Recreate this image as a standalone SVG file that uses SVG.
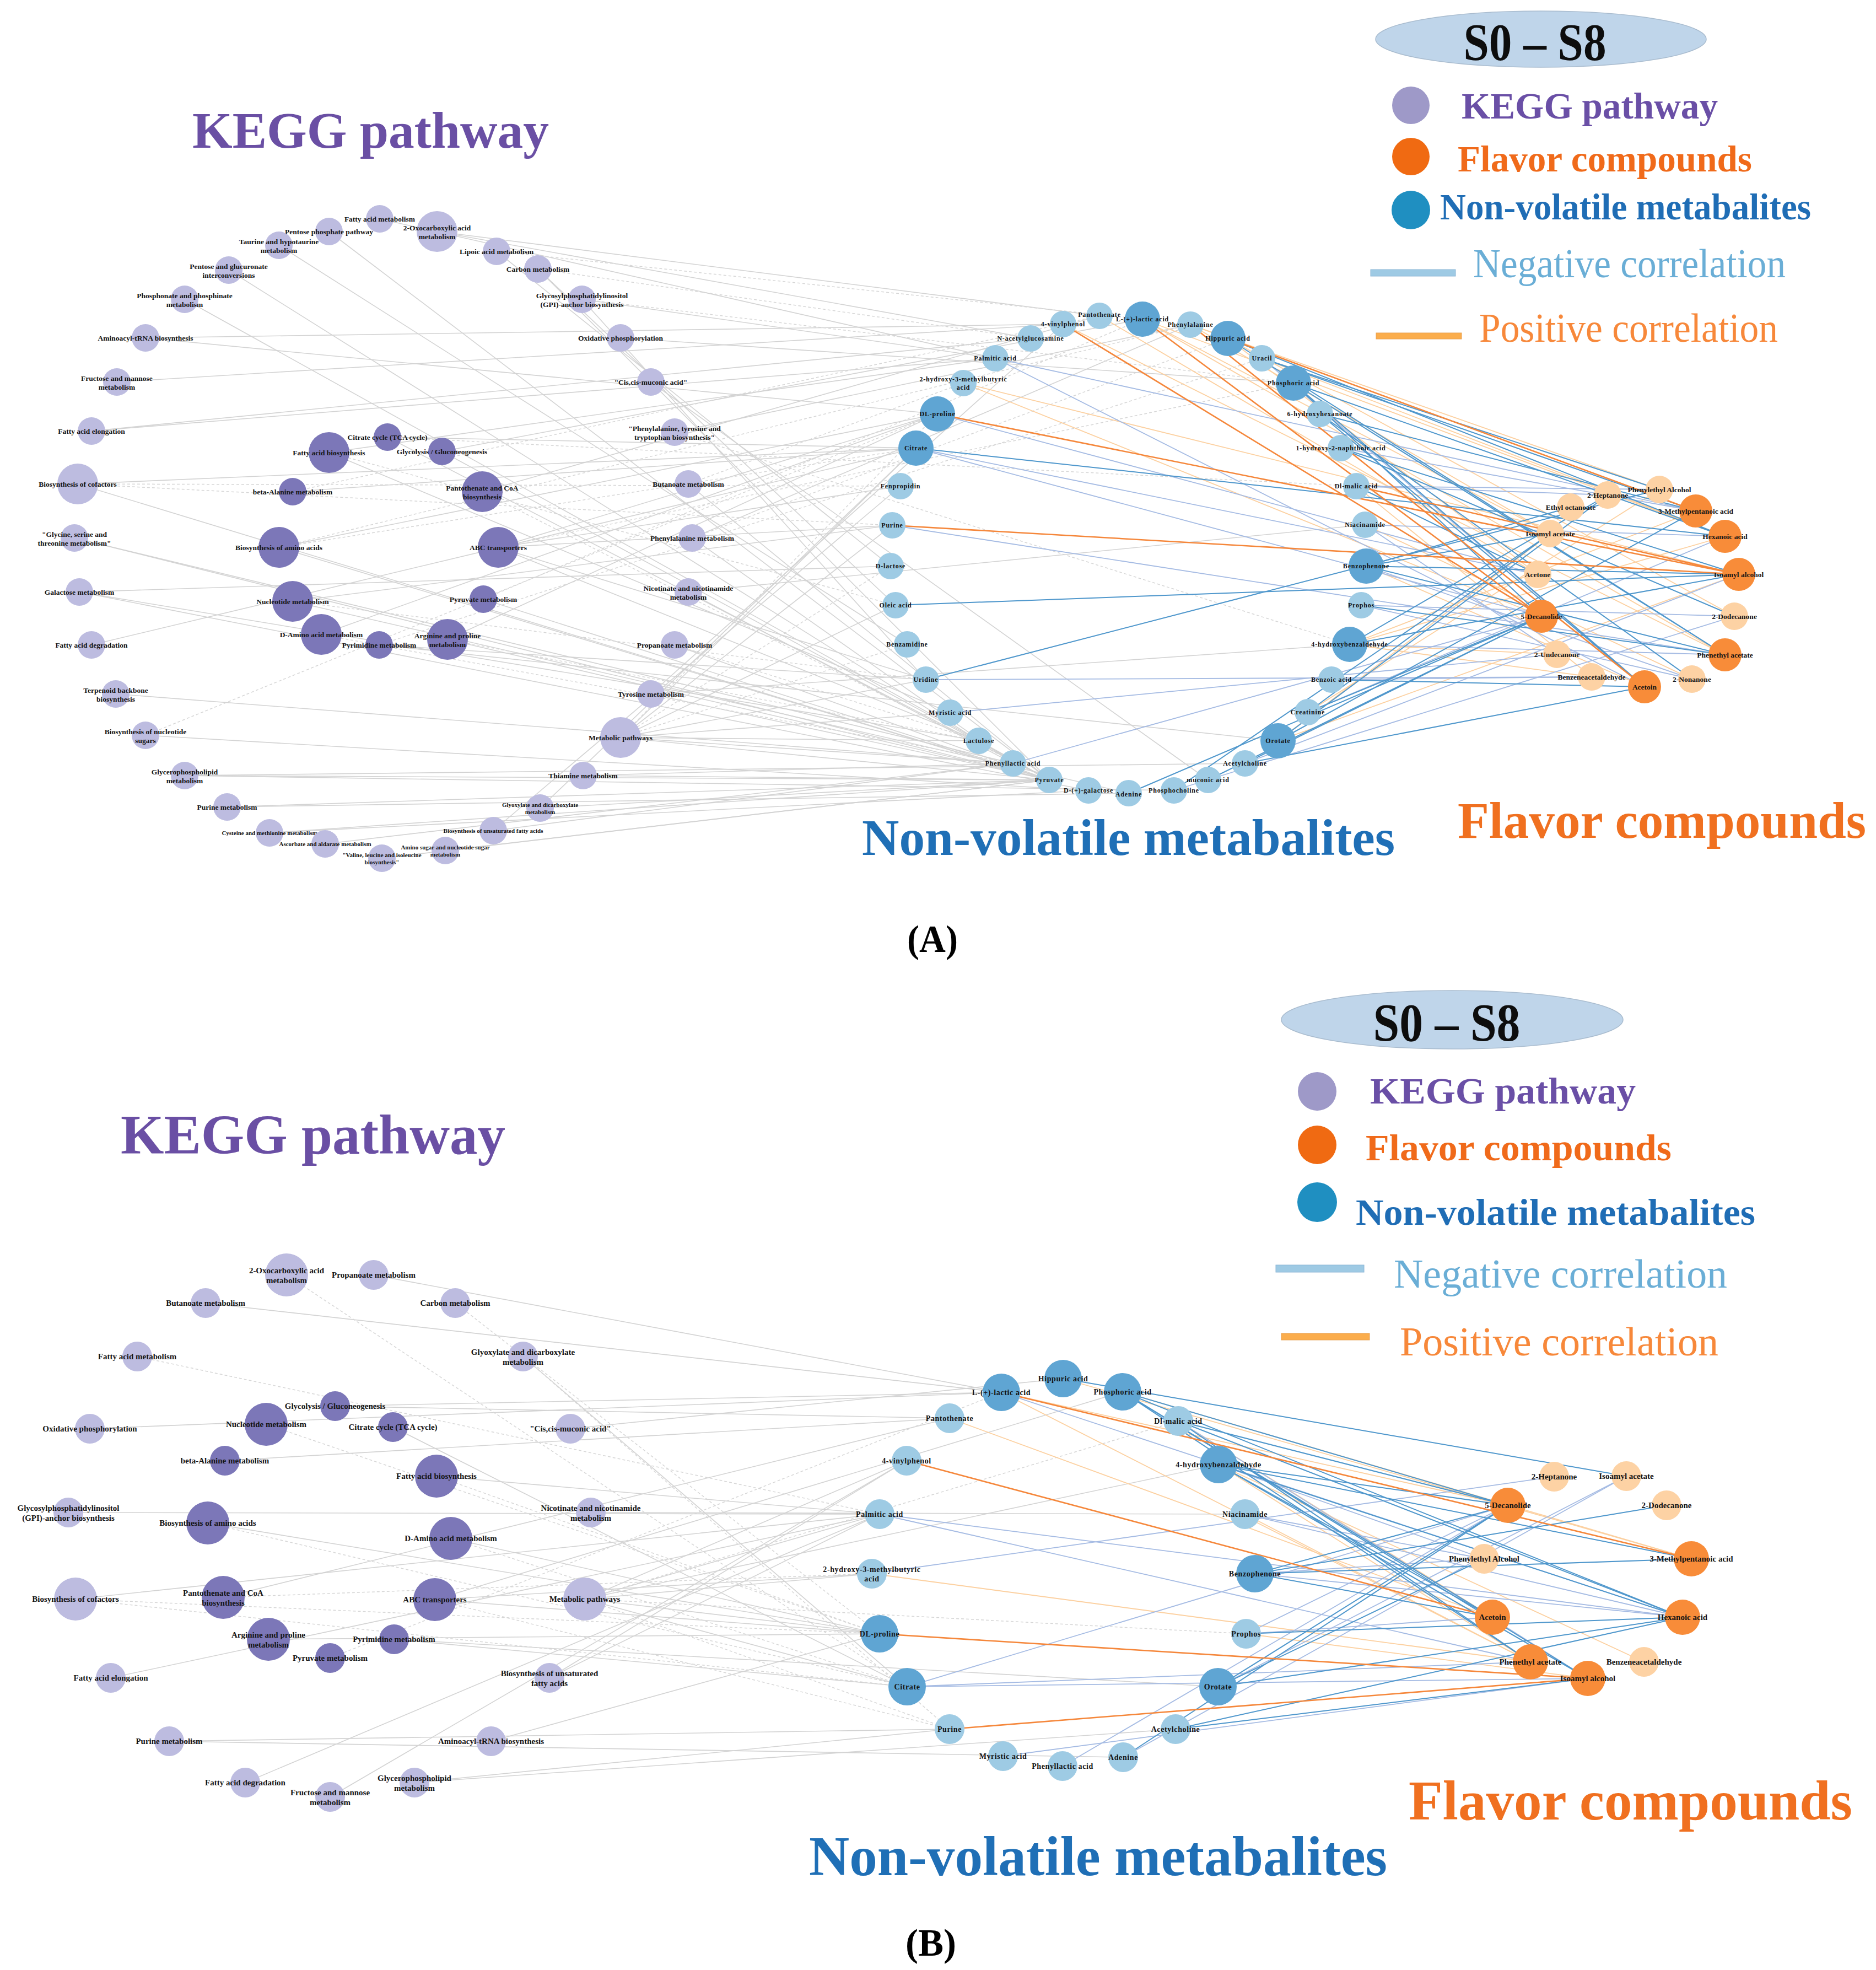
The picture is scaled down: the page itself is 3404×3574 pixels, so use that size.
<svg xmlns="http://www.w3.org/2000/svg" width="3404" height="3574" viewBox="0 0 3404 3574">
<style>
.kl{fill:#bdbce0}.kd{fill:#7c77b8}.nl{fill:#9ecbe4}.nd{fill:#5fa5d3}.fl{fill:#fdd2a4}.fd{fill:#f88c39}
text{font-family:"Liberation Serif","Times New Roman",serif;font-weight:bold;fill:#141414;text-anchor:middle;dominant-baseline:central}
.ta{font-size:13.5px}.tas{font-size:11px}.tn{font-size:12px;letter-spacing:0.8px}.tf{font-size:13.5px}
.tb{font-size:15px}.tnb{font-size:14px;letter-spacing:0.6px}.tfb{font-size:15px}
.big{dominant-baseline:auto;text-anchor:start}
.leg{dominant-baseline:auto;text-anchor:start;font-size:68px}
.corr{dominant-baseline:auto;text-anchor:start;font-size:74px;font-weight:normal}
.e-g{stroke:#d3d3d3;stroke-width:1.6}
.e-gd{stroke:#d6d6d6;stroke-width:1.5;stroke-dasharray:5 4}
.e-nb{stroke:#4f97cc;stroke-width:2}
.e-nl{stroke:#a5bbe3;stroke-width:1.8}
.e-po{stroke:#f5873b;stroke-width:2.6}
.e-pl{stroke:#fcd0a0;stroke-width:1.8}
</style>
<rect width="3404" height="3574" fill="#ffffff"/>

<g id="connectors" fill="none">
<g id="connectors-a">
<g class="e-g">
<path d="M793 420L1870 614"/><path d="M793 420L1995 573"/><path d="M901 456L1616 1027"/><path d="M976 488L1625 1098"/><path d="M976 488L1904 1415"/>
<path d="M1056 543L1806 650"/><path d="M1056 543L1680 1233"/><path d="M264 613L1929 588"/><path d="M264 613L1701 751"/><path d="M212 693L1929 588"/>
<path d="M166 782L1870 614"/><path d="M166 782L1806 650"/><path d="M141 878L1662 813"/><path d="M141 878L1904 1415"/><path d="M135 976L1838 1385"/>
<path d="M135 976L1904 1415"/><path d="M144 1074L1616 1027"/><path d="M144 1074L1975 1434"/><path d="M144 1074L1776 1344"/><path d="M166 1170L1662 813"/>
<path d="M210 1259L1838 1385"/><path d="M264 1334L1975 1434"/><path d="M335 1407L2130 1434"/><path d="M335 1407L2259 1385"/><path d="M335 1407L1904 1415"/>
<path d="M412 1464L1904 1415"/><path d="M412 1464L2048 1439"/><path d="M489 1511L1975 1434"/><path d="M489 1511L1904 1415"/><path d="M590 1531L1838 1385"/>
<path d="M693 1557L1904 1415"/><path d="M808 1543L1904 1415"/><path d="M895 1507L1838 1385"/><path d="M895 1507L1634 882"/><path d="M980 1466L1662 813"/>
<path d="M980 1466L1904 1415"/><path d="M1058 1407L1838 1385"/><path d="M1058 1407L1904 1415"/><path d="M1126 1338L1904 1415"/><path d="M1126 1338L1838 1385"/>
<path d="M1126 1338L1776 1344"/><path d="M1126 1338L1724 1293"/><path d="M1126 1338L1680 1233"/><path d="M1126 1338L1625 1098"/><path d="M1126 1338L1619 953"/>
<path d="M1126 1338L1662 813"/><path d="M1181 1259L2449 1169"/><path d="M1181 1259L1929 588"/><path d="M1181 1259L1904 1415"/><path d="M1224 1170L1904 1415"/>
<path d="M1249 1074L2477 952"/><path d="M1249 1074L1838 1385"/><path d="M1256 976L2160 589"/><path d="M1256 976L1838 1385"/><path d="M1249 878L1904 1415"/>
<path d="M1224 784L2160 589"/><path d="M1181 693L2192 1415"/><path d="M1126 613L2347 695"/><path d="M597 420L1904 1415"/><path d="M506 445L1646 1169"/>
<path d="M415 490L1776 1344"/><path d="M335 543L1904 1415"/><path d="M689 397L1806 650"/><path d="M703 793L1662 813"/><path d="M703 793L1904 1415"/>
<path d="M597 821L1806 650"/><path d="M597 821L1724 1293"/><path d="M802 819L1904 1415"/><path d="M802 819L2073 579"/><path d="M531 892L1662 813"/>
<path d="M875 892L1995 573"/><path d="M506 993L1701 751"/><path d="M506 993L1904 1415"/><path d="M904 993L1701 751"/><path d="M904 993L1634 882"/>
<path d="M904 993L1619 953"/><path d="M904 993L1680 1233"/><path d="M904 993L1776 1344"/><path d="M531 1091L1619 953"/><path d="M531 1091L2048 1439"/>
<path d="M877 1087L1904 1415"/><path d="M583 1151L1701 751"/><path d="M688 1170L1680 1233"/><path d="M688 1170L2319 1344"/><path d="M812 1160L1701 751"/>
<path d="M812 1160L1904 1415"/>
</g>
<g class="e-gd">
<path d="M901 456L2073 579"/><path d="M976 488L1870 614"/><path d="M1056 543L2347 695"/><path d="M141 878L1634 882"/><path d="M141 878L1619 953"/>
<path d="M264 1334L1701 751"/><path d="M1126 1338L1646 1169"/><path d="M1126 1338L1616 1027"/><path d="M1126 1338L1701 751"/><path d="M1224 1170L1776 1344"/>
<path d="M1256 976L2228 614"/><path d="M1249 878L1748 695"/><path d="M1224 784L2449 1169"/><path d="M703 793L2461 882"/><path d="M597 821L1625 1098"/>
<path d="M531 892L1995 573"/><path d="M875 892L1904 1415"/><path d="M506 993L2160 589"/><path d="M506 993L1662 813"/><path d="M904 993L2347 695"/>
<path d="M531 1091L1680 1233"/><path d="M877 1087L2073 579"/><path d="M583 1151L1838 1385"/><path d="M688 1170L2290 650"/><path d="M812 1160L1776 1344"/>
</g>
<g class="e-pl">
<path d="M2073 579L3130 973"/><path d="M2073 579L3130 1188"/><path d="M2073 579L2813 968"/><path d="M2160 589L2813 968"/><path d="M2160 589L3077 927"/>
<path d="M2160 589L3011 888"/><path d="M2228 614L3147 1118"/><path d="M2228 614L2790 1042"/><path d="M2290 650L3130 973"/><path d="M1995 573L2790 1042"/>
<path d="M1929 588L3130 1188"/><path d="M1748 695L3155 1042"/><path d="M1748 695L2797 1118"/><path d="M2449 1169L2888 1228"/><path d="M2449 1169L2825 1187"/>
<path d="M2449 1169L3130 973"/><path d="M2449 1169L3077 927"/><path d="M2479 1027L2984 1246"/><path d="M2319 1344L2813 968"/><path d="M2373 1292L3011 888"/>
<path d="M2319 1344L3155 1042"/><path d="M2477 952L3070 1232"/><path d="M2461 882L2888 1228"/>
</g>
<g class="e-nl">
<path d="M1662 813L2797 1118"/><path d="M1662 813L2790 1042"/><path d="M1806 650L3077 927"/><path d="M1619 953L3130 1188"/><path d="M1701 751L2790 1042"/>
<path d="M1680 1233L2888 1228"/><path d="M1724 1293L2825 1187"/><path d="M1838 1385L2797 1118"/><path d="M2130 1434L3147 1118"/><path d="M2416 1233L2888 1228"/>
<path d="M2477 952L3130 973"/><path d="M2477 952L2825 1187"/><path d="M2461 882L3011 888"/><path d="M2461 882L2917 898"/><path d="M2433 813L3077 927"/>
<path d="M2290 650L2984 1246"/><path d="M2470 1098L3147 1118"/><path d="M2470 1098L3070 1232"/><path d="M2479 1027L3070 1232"/><path d="M2449 1169L3130 1188"/>
<path d="M2373 1292L3130 973"/><path d="M2259 1385L3155 1042"/><path d="M1806 650L2984 1246"/>
</g>
<g class="e-nb">
<path d="M1625 1098L3155 1042"/><path d="M1680 1233L3011 888"/><path d="M2228 614L3130 1188"/><path d="M2228 614L3130 973"/><path d="M2290 650L3011 888"/>
<path d="M2290 650L3077 927"/><path d="M2347 695L3130 973"/><path d="M2347 695L2984 1246"/><path d="M2347 695L3130 1188"/><path d="M2347 695L2797 1118"/>
<path d="M2395 751L3077 927"/><path d="M2395 751L3070 1232"/><path d="M2395 751L2984 1246"/><path d="M2433 813L3147 1118"/><path d="M2433 813L3155 1042"/>
<path d="M2461 882L2790 1042"/><path d="M2479 1027L2813 968"/><path d="M2479 1027L3155 1042"/><path d="M2479 1027L3130 1188"/><path d="M2479 1027L2850 920"/>
<path d="M2449 1169L2917 898"/><path d="M2449 1169L3155 1042"/><path d="M2470 1098L3130 1188"/><path d="M2373 1292L2797 1118"/><path d="M2373 1292L2813 968"/>
<path d="M2319 1344L3077 927"/><path d="M2319 1344L2917 898"/><path d="M2259 1385L2984 1246"/><path d="M2259 1385L2797 1118"/><path d="M2048 1439L2797 1118"/>
<path d="M2130 1434L2813 968"/><path d="M1662 813L3130 973"/><path d="M2192 1415L2797 1118"/><path d="M2416 1233L2984 1246"/>
</g>
<g class="e-po">
<path d="M1929 588L2797 1118"/><path d="M1701 751L3155 1042"/><path d="M1619 953L3155 1042"/><path d="M2228 614L3077 927"/><path d="M2073 579L2797 1118"/>
<path d="M2160 589L2984 1246"/><path d="M2461 882L3155 1042"/>
</g>
</g>
<g id="connectors-b">
<g class="e-g">
<path d="M678 2313L1817 2526"/><path d="M373 2364L1817 2526"/><path d="M949 2461L1646 3060"/><path d="M608 2551L1817 2526"/><path d="M608 2551L1723 2573"/>
<path d="M163 2592L1817 2526"/><path d="M713 2589L1646 3060"/><path d="M1035 2592L1929 2501"/><path d="M408 2650L1723 2573"/><path d="M792 2678L1596 2747"/>
<path d="M124 2744L1596 2747"/><path d="M1072 2744L2259 2747"/><path d="M377 2763L1596 2964"/><path d="M137 2901L1596 2747"/><path d="M405 2898L1723 2573"/>
<path d="M487 2974L1596 2964"/><path d="M201 3044L1596 2747"/><path d="M715 2974L1646 3060"/><path d="M715 2974L2210 3060"/><path d="M789 2902L1596 2964"/>
<path d="M789 2902L2037 2525"/><path d="M789 2902L1582 2855"/><path d="M1061 2901L1596 2964"/><path d="M1061 2901L1646 3060"/><path d="M1061 2901L1582 2855"/>
<path d="M1061 2901L1596 2747"/><path d="M1061 2901L1645 2650"/><path d="M1061 2901L2211 2657"/><path d="M445 3234L1596 2747"/><path d="M599 3260L1645 2650"/>
<path d="M891 3159L1596 2964"/><path d="M307 3159L2038 3188"/><path d="M307 3159L1723 3137"/><path d="M752 3234L1723 3137"/><path d="M752 3234L2133 3137"/>
<path d="M997 3044L1596 2747"/><path d="M997 3044L1645 2650"/><path d="M818 2791L1596 2964"/>
</g>
<g class="e-gd">
<path d="M249 2461L1596 2747"/><path d="M520 2313L1646 3060"/><path d="M826 2364L1596 2964"/><path d="M949 2461L1723 3137"/><path d="M483 2584L1596 2964"/>
<path d="M792 2678L1596 2964"/><path d="M377 2763L1646 3060"/><path d="M137 2901L1646 3060"/><path d="M137 2901L1596 2964"/><path d="M405 2898L1582 2855"/>
<path d="M599 3008L1817 2526"/><path d="M789 2902L1723 3137"/><path d="M1061 2901L2138 2578"/><path d="M1061 2901L2261 2964"/><path d="M1061 2901L1723 3137"/>
<path d="M818 2791L1646 3060"/>
</g>
<g class="e-pl">
<path d="M1723 2573L2708 2934"/><path d="M1817 2526L2777 3015"/><path d="M1582 2855L2777 3015"/><path d="M1817 2526L2736 2731"/><path d="M2037 2525L3069 2828"/>
<path d="M1929 2501L3069 2828"/><path d="M2138 2578L2708 2934"/><path d="M2211 2657L2777 3015"/><path d="M2211 2657L2983 3015"/><path d="M2259 2747L2777 3015"/>
<path d="M2261 2964L2881 3045"/>
</g>
<g class="e-nl">
<path d="M1596 2747L3053 2934"/><path d="M1596 2747L2777 3015"/><path d="M1646 3060L2736 2731"/><path d="M1646 3060L2777 3015"/><path d="M1646 3060L2881 3045"/>
<path d="M1928 3204L2736 2731"/><path d="M1820 3186L2881 3045"/><path d="M1582 2855L2820 2679"/><path d="M2259 2747L3053 2934"/><path d="M2259 2747L2693 2828"/>
<path d="M2261 2964L2708 2934"/><path d="M2261 2964L2736 2731"/><path d="M2211 2657L2693 2828"/><path d="M2277 2855L3053 2934"/><path d="M2277 2855L2693 2828"/>
<path d="M2138 2578L2881 3045"/><path d="M1817 2526L3053 2934"/><path d="M2038 3188L2951 2678"/><path d="M2210 3060L2951 2678"/>
</g>
<g class="e-nb">
<path d="M1929 2501L2951 2678"/><path d="M2037 2525L2736 2731"/><path d="M2037 2525L3053 2934"/><path d="M2037 2525L2708 2934"/><path d="M2037 2525L2777 3015"/>
<path d="M2037 2525L2881 3045"/><path d="M2138 2578L2736 2731"/><path d="M2138 2578L2777 3015"/><path d="M2138 2578L3053 2934"/><path d="M2211 2657L2736 2731"/>
<path d="M2211 2657L3069 2828"/><path d="M2211 2657L3053 2934"/><path d="M2211 2657L2708 2934"/><path d="M2211 2657L2881 3045"/><path d="M2277 2855L3069 2828"/>
<path d="M2277 2855L3024 2731"/><path d="M2277 2855L2708 2934"/><path d="M2277 2855L2736 2731"/><path d="M2210 3060L2736 2731"/><path d="M2210 3060L3053 2934"/>
<path d="M2210 3060L2693 2828"/><path d="M2133 3137L2881 3045"/><path d="M2133 3137L3053 2934"/><path d="M2038 3188L2736 2731"/><path d="M2261 2964L3053 2934"/>
</g>
<g class="e-po">
<path d="M1817 2526L3069 2828"/><path d="M1645 2650L2708 2934"/><path d="M1596 2964L2881 3045"/><path d="M1723 3137L2881 3045"/>
</g>
</g>
</g>

<g id="panel-a-kegg">
<g id="a-k-fatty-acid-metabolism"><circle class="kl" cx="689" cy="397" r="25"/><text class="ta" x="689" y="397">Fatty acid metabolism</text></g>
<g id="a-k-pentose-phosphate"><circle class="kl" cx="597" cy="420" r="25"/><text class="ta" x="597" y="420">Pentose phosphate pathway</text></g>
<g id="a-k-2-oxocarboxylic"><circle class="kl" cx="793" cy="420" r="37"/><text class="ta" x="793" y="420"><tspan x="793" dy="-0.55em">2-Oxocarboxylic acid</tspan><tspan x="793" dy="1.2em">metabolism</tspan></text></g>
<g id="a-k-taurine"><circle class="kl" cx="506" cy="445" r="25"/><text class="ta" x="506" y="445"><tspan x="506" dy="-0.55em">Taurine and hypotaurine</tspan><tspan x="506" dy="1.2em">metabolism</tspan></text></g>
<g id="a-k-lipoic"><circle class="kl" cx="901" cy="456" r="25"/><text class="ta" x="901" y="456">Lipoic acid metabolism</text></g>
<g id="a-k-pentose-glucuronate"><circle class="kl" cx="415" cy="490" r="25"/><text class="ta" x="415" y="490"><tspan x="415" dy="-0.55em">Pentose and glucuronate</tspan><tspan x="415" dy="1.2em">interconversions</tspan></text></g>
<g id="a-k-carbon"><circle class="kl" cx="976" cy="488" r="25"/><text class="ta" x="976" y="488">Carbon metabolism</text></g>
<g id="a-k-phosphonate"><circle class="kl" cx="335" cy="543" r="25"/><text class="ta" x="335" y="543"><tspan x="335" dy="-0.55em">Phosphonate and phosphinate</tspan><tspan x="335" dy="1.2em">metabolism</tspan></text></g>
<g id="a-k-gpi"><circle class="kl" cx="1056" cy="543" r="25"/><text class="ta" x="1056" y="543"><tspan x="1056" dy="-0.55em">Glycosylphosphatidylinositol</tspan><tspan x="1056" dy="1.2em">(GPI)-anchor biosynthesis</tspan></text></g>
<g id="a-k-aminoacyl"><circle class="kl" cx="264" cy="613" r="25"/><text class="ta" x="264" y="613">Aminoacyl-tRNA biosynthesis</text></g>
<g id="a-k-oxidative"><circle class="kl" cx="1126" cy="613" r="25"/><text class="ta" x="1126" y="613">Oxidative phosphorylation</text></g>
<g id="a-k-fructose"><circle class="kl" cx="212" cy="693" r="25"/><text class="ta" x="212" y="693"><tspan x="212" dy="-0.55em">Fructose and mannose</tspan><tspan x="212" dy="1.2em">metabolism</tspan></text></g>
<g id="a-k-cis-muconic"><circle class="kl" cx="1181" cy="693" r="25"/><text class="ta" x="1181" y="693">"Cis,cis-muconic acid"</text></g>
<g id="a-k-fatty-elongation"><circle class="kl" cx="166" cy="782" r="25"/><text class="ta" x="166" y="782">Fatty acid elongation</text></g>
<g id="a-k-phe-tyr-trp"><circle class="kl" cx="1224" cy="784" r="25"/><text class="ta" x="1224" y="784"><tspan x="1224" dy="-0.55em">"Phenylalanine, tyrosine and</tspan><tspan x="1224" dy="1.2em">tryptophan biosynthesis"</tspan></text></g>
<g id="a-k-cofactors"><circle class="kl" cx="141" cy="878" r="37"/><text class="ta" x="141" y="878">Biosynthesis of cofactors</text></g>
<g id="a-k-butanoate"><circle class="kl" cx="1249" cy="878" r="25"/><text class="ta" x="1249" y="878">Butanoate metabolism</text></g>
<g id="a-k-glycine"><circle class="kl" cx="135" cy="976" r="25"/><text class="ta" x="135" y="976"><tspan x="135" dy="-0.55em">"Glycine, serine and</tspan><tspan x="135" dy="1.2em">threonine metabolism"</tspan></text></g>
<g id="a-k-phenylalanine"><circle class="kl" cx="1256" cy="976" r="25"/><text class="ta" x="1256" y="976">Phenylalanine metabolism</text></g>
<g id="a-k-galactose"><circle class="kl" cx="144" cy="1074" r="25"/><text class="ta" x="144" y="1074">Galactose metabolism</text></g>
<g id="a-k-nicotinate"><circle class="kl" cx="1249" cy="1074" r="25"/><text class="ta" x="1249" y="1074"><tspan x="1249" dy="-0.55em">Nicotinate and nicotinamide</tspan><tspan x="1249" dy="1.2em">metabolism</tspan></text></g>
<g id="a-k-fatty-degradation"><circle class="kl" cx="166" cy="1170" r="25"/><text class="ta" x="166" y="1170">Fatty acid degradation</text></g>
<g id="a-k-propanoate"><circle class="kl" cx="1224" cy="1170" r="25"/><text class="ta" x="1224" y="1170">Propanoate metabolism</text></g>
<g id="a-k-terpenoid"><circle class="kl" cx="210" cy="1259" r="25"/><text class="ta" x="210" y="1259"><tspan x="210" dy="-0.55em">Terpenoid backbone</tspan><tspan x="210" dy="1.2em">biosynthesis</tspan></text></g>
<g id="a-k-tyrosine"><circle class="kl" cx="1181" cy="1259" r="25"/><text class="ta" x="1181" y="1259">Tyrosine metabolism</text></g>
<g id="a-k-nucleotide-sugars"><circle class="kl" cx="264" cy="1334" r="25"/><text class="ta" x="264" y="1334"><tspan x="264" dy="-0.55em">Biosynthesis of nucleotide</tspan><tspan x="264" dy="1.2em">sugars</tspan></text></g>
<g id="a-k-metabolic"><circle class="kl" cx="1126" cy="1338" r="37"/><text class="ta" x="1126" y="1338">Metabolic pathways</text></g>
<g id="a-k-glycerophospholipid"><circle class="kl" cx="335" cy="1407" r="25"/><text class="ta" x="335" y="1407"><tspan x="335" dy="-0.55em">Glycerophospholipid</tspan><tspan x="335" dy="1.2em">metabolism</tspan></text></g>
<g id="a-k-thiamine"><circle class="kl" cx="1058" cy="1407" r="25"/><text class="ta" x="1058" y="1407">Thiamine metabolism</text></g>
<g id="a-k-purine"><circle class="kl" cx="412" cy="1464" r="25"/><text class="ta" x="412" y="1464">Purine metabolism</text></g>
<g id="a-k-glyoxylate"><circle class="kl" cx="980" cy="1466" r="25"/><text class="tas" x="980" y="1466"><tspan x="980" dy="-0.55em">Glyoxylate and dicarboxylate</tspan><tspan x="980" dy="1.2em">metabolism</tspan></text></g>
<g id="a-k-cysteine"><circle class="kl" cx="489" cy="1511" r="25"/><text class="tas" x="489" y="1511">Cysteine and methionine metabolism</text></g>
<g id="a-k-unsaturated"><circle class="kl" cx="895" cy="1507" r="25"/><text class="tas" x="895" y="1507">Biosynthesis of unsaturated fatty acids</text></g>
<g id="a-k-ascorbate"><circle class="kl" cx="590" cy="1531" r="25"/><text class="tas" x="590" y="1531">Ascorbate and aldarate metabolism</text></g>
<g id="a-k-amino-sugar"><circle class="kl" cx="808" cy="1543" r="25"/><text class="tas" x="808" y="1543"><tspan x="808" dy="-0.55em">Amino sugar and nucleotide sugar</tspan><tspan x="808" dy="1.2em">metabolism</tspan></text></g>
<g id="a-k-valine"><circle class="kl" cx="693" cy="1557" r="25"/><text class="tas" x="693" y="1557"><tspan x="693" dy="-0.55em">"Valine, leucine and isoleucine</tspan><tspan x="693" dy="1.2em">biosynthesis"</tspan></text></g>
<g id="a-k-tca"><circle class="kd" cx="703" cy="793" r="25"/><text class="ta" x="703" y="793">Citrate cycle (TCA cycle)</text></g>
<g id="a-k-fatty-biosynthesis"><circle class="kd" cx="597" cy="821" r="37"/><text class="ta" x="597" y="821">Fatty acid biosynthesis</text></g>
<g id="a-k-glycolysis"><circle class="kd" cx="802" cy="819" r="25"/><text class="ta" x="802" y="819">Glycolysis / Gluconeogenesis</text></g>
<g id="a-k-beta-alanine"><circle class="kd" cx="531" cy="892" r="25"/><text class="ta" x="531" y="892">beta-Alanine metabolism</text></g>
<g id="a-k-pantothenate"><circle class="kd" cx="875" cy="892" r="37"/><text class="ta" x="875" y="892"><tspan x="875" dy="-0.55em">Pantothenate and CoA</tspan><tspan x="875" dy="1.2em">biosynthesis</tspan></text></g>
<g id="a-k-amino-acids"><circle class="kd" cx="506" cy="993" r="37"/><text class="ta" x="506" y="993">Biosynthesis of amino acids</text></g>
<g id="a-k-abc"><circle class="kd" cx="904" cy="993" r="37"/><text class="ta" x="904" y="993">ABC transporters</text></g>
<g id="a-k-nucleotide"><circle class="kd" cx="531" cy="1091" r="37"/><text class="ta" x="531" y="1091">Nucleotide metabolism</text></g>
<g id="a-k-pyruvate"><circle class="kd" cx="877" cy="1087" r="25"/><text class="ta" x="877" y="1087">Pyruvate metabolism</text></g>
<g id="a-k-d-amino"><circle class="kd" cx="583" cy="1151" r="37"/><text class="ta" x="583" y="1151">D-Amino acid metabolism</text></g>
<g id="a-k-pyrimidine"><circle class="kd" cx="688" cy="1170" r="25"/><text class="ta" x="688" y="1170">Pyrimidine metabolism</text></g>
<g id="a-k-arginine"><circle class="kd" cx="812" cy="1160" r="37"/><text class="ta" x="812" y="1160"><tspan x="812" dy="-0.55em">Arginine and proline</tspan><tspan x="812" dy="1.2em">metabolism</tspan></text></g>
</g>

<g id="panel-a-nonvolatile">
<g id="a-n-n-acetylglucosamine"><circle class="nl" cx="1870" cy="614" r="24"/><text class="tn" x="1870" y="614">N-acetylglucosamine</text></g>
<g id="a-n-4-vinylphenol"><circle class="nl" cx="1929" cy="588" r="24"/><text class="tn" x="1929" y="588">4-vinylphenol</text></g>
<g id="a-n-pantothenate"><circle class="nl" cx="1995" cy="573" r="24"/><text class="tn" x="1995" y="571">Pantothenate</text></g>
<g id="a-n-phenylalanine"><circle class="nl" cx="2160" cy="589" r="24"/><text class="tn" x="2160" y="589">Phenylalanine</text></g>
<g id="a-n-lactic"><circle class="nd" cx="2073" cy="579" r="32"/><text class="tn" x="2073" y="579">L-(+)-lactic acid</text></g>
<g id="a-n-hippuric"><circle class="nd" cx="2228" cy="614" r="32"/><text class="tn" x="2228" y="614">Hippuric acid</text></g>
<g id="a-n-palmitic"><circle class="nl" cx="1806" cy="650" r="24"/><text class="tn" x="1806" y="650">Palmitic acid</text></g>
<g id="a-n-uracil"><circle class="nl" cx="2290" cy="650" r="24"/><text class="tn" x="2290" y="650">Uracil</text></g>
<g id="a-n-2-hydroxy"><circle class="nl" cx="1748" cy="695" r="24"/><text class="tn" x="1748" y="695"><tspan x="1748" dy="-0.55em">2-hydroxy-3-methylbutyric</tspan><tspan x="1748" dy="1.2em">acid</tspan></text></g>
<g id="a-n-phosphoric"><circle class="nd" cx="2347" cy="695" r="32"/><text class="tn" x="2347" y="695">Phosphoric acid</text></g>
<g id="a-n-dl-proline"><circle class="nd" cx="1701" cy="751" r="32"/><text class="tn" x="1701" y="751">DL-proline</text></g>
<g id="a-n-6-hydroxyhexanoate"><circle class="nl" cx="2395" cy="751" r="24"/><text class="tn" x="2395" y="751">6-hydroxyhexanoate</text></g>
<g id="a-n-citrate"><circle class="nd" cx="1662" cy="813" r="32"/><text class="tn" x="1662" y="813">Citrate</text></g>
<g id="a-n-naphthoic"><circle class="nl" cx="2433" cy="813" r="24"/><text class="tn" x="2433" y="813">1-hydroxy-2-naphthoic acid</text></g>
<g id="a-n-fenpropidin"><circle class="nl" cx="1634" cy="882" r="24"/><text class="tn" x="1634" y="882">Fenpropidin</text></g>
<g id="a-n-dl-malic"><circle class="nl" cx="2461" cy="882" r="24"/><text class="tn" x="2461" y="882">Dl-malic acid</text></g>
<g id="a-n-purine"><circle class="nl" cx="1619" cy="953" r="24"/><text class="tn" x="1619" y="953">Purine</text></g>
<g id="a-n-niacinamide"><circle class="nl" cx="2477" cy="952" r="24"/><text class="tn" x="2477" y="952">Niacinamide</text></g>
<g id="a-n-d-lactose"><circle class="nl" cx="1616" cy="1027" r="24"/><text class="tn" x="1616" y="1027">D-lactose</text></g>
<g id="a-n-benzophenone"><circle class="nd" cx="2479" cy="1027" r="32"/><text class="tn" x="2479" y="1027">Benzophenone</text></g>
<g id="a-n-oleic"><circle class="nl" cx="1625" cy="1098" r="24"/><text class="tn" x="1625" y="1098">Oleic acid</text></g>
<g id="a-n-prophos"><circle class="nl" cx="2470" cy="1098" r="24"/><text class="tn" x="2470" y="1098">Prophos</text></g>
<g id="a-n-benzamidine"><circle class="nl" cx="1646" cy="1169" r="24"/><text class="tn" x="1646" y="1169">Benzamidine</text></g>
<g id="a-n-4-hydroxybenzaldehyde"><circle class="nd" cx="2449" cy="1169" r="32"/><text class="tn" x="2449" y="1169">4-hydroxybenzaldehyde</text></g>
<g id="a-n-uridine"><circle class="nl" cx="1680" cy="1233" r="24"/><text class="tn" x="1680" y="1233">Uridine</text></g>
<g id="a-n-benzoic"><circle class="nl" cx="2416" cy="1233" r="24"/><text class="tn" x="2416" y="1233">Benzoic acid</text></g>
<g id="a-n-myristic"><circle class="nl" cx="1724" cy="1293" r="24"/><text class="tn" x="1724" y="1293">Myristic acid</text></g>
<g id="a-n-creatinine"><circle class="nl" cx="2373" cy="1292" r="24"/><text class="tn" x="2373" y="1292">Creatinine</text></g>
<g id="a-n-lactulose"><circle class="nl" cx="1776" cy="1344" r="24"/><text class="tn" x="1776" y="1344">Lactulose</text></g>
<g id="a-n-orotate"><circle class="nd" cx="2319" cy="1344" r="32"/><text class="tn" x="2319" y="1344">Orotate</text></g>
<g id="a-n-phenyllactic"><circle class="nl" cx="1838" cy="1385" r="24"/><text class="tn" x="1838" y="1385">Phenyllactic acid</text></g>
<g id="a-n-acetylcholine"><circle class="nl" cx="2259" cy="1385" r="24"/><text class="tn" x="2259" y="1385">Acetylcholine</text></g>
<g id="a-n-pyruvate"><circle class="nl" cx="1904" cy="1415" r="24"/><text class="tn" x="1904" y="1415">Pyruvate</text></g>
<g id="a-n-muconic"><circle class="nl" cx="2192" cy="1415" r="24"/><text class="tn" x="2192" y="1415">muconic acid</text></g>
<g id="a-n-galactose"><circle class="nl" cx="1975" cy="1434" r="24"/><text class="tn" x="1975" y="1434">D-(+)-galactose</text></g>
<g id="a-n-phosphocholine"><circle class="nl" cx="2130" cy="1434" r="24"/><text class="tn" x="2130" y="1434">Phosphocholine</text></g>
<g id="a-n-adenine"><circle class="nl" cx="2048" cy="1439" r="24"/><text class="tn" x="2048" y="1441">Adenine</text></g>
</g>

<g id="panel-a-flavor">
<g id="a-f-phenylethyl-alcohol"><circle class="fl" cx="3011" cy="888" r="25"/><text class="tf" x="3011" y="888">Phenylethyl Alcohol</text></g>
<g id="a-f-2-heptanone"><circle class="fl" cx="2917" cy="898" r="25"/><text class="tf" x="2917" y="898">2-Heptanone</text></g>
<g id="a-f-ethyl-octanoate"><circle class="fl" cx="2850" cy="920" r="25"/><text class="tf" x="2850" y="920">Ethyl octanoate</text></g>
<g id="a-f-3-methylpentanoic"><circle class="fd" cx="3077" cy="927" r="30"/><text class="tf" x="3077" y="927">3-Methylpentanoic acid</text></g>
<g id="a-f-isoamyl-acetate"><circle class="fl" cx="2813" cy="968" r="25"/><text class="tf" x="2813" y="968">Isoamyl acetate</text></g>
<g id="a-f-hexanoic"><circle class="fd" cx="3130" cy="973" r="30"/><text class="tf" x="3130" y="973">Hexanoic acid</text></g>
<g id="a-f-acetone"><circle class="fl" cx="2790" cy="1042" r="25"/><text class="tf" x="2790" y="1042">Acetone</text></g>
<g id="a-f-isoamyl-alcohol"><circle class="fd" cx="3155" cy="1042" r="30"/><text class="tf" x="3155" y="1042">Isoamyl alcohol</text></g>
<g id="a-f-5-decanolide"><circle class="fd" cx="2797" cy="1118" r="30"/><text class="tf" x="2797" y="1118">5-Decanolide</text></g>
<g id="a-f-2-dodecanone"><circle class="fl" cx="3147" cy="1118" r="25"/><text class="tf" x="3147" y="1118">2-Dodecanone</text></g>
<g id="a-f-2-undecanone"><circle class="fl" cx="2825" cy="1187" r="25"/><text class="tf" x="2825" y="1187">2-Undecanone</text></g>
<g id="a-f-phenethyl-acetate"><circle class="fd" cx="3130" cy="1188" r="30"/><text class="tf" x="3130" y="1188">Phenethyl acetate</text></g>
<g id="a-f-benzeneacetaldehyde"><circle class="fl" cx="2888" cy="1228" r="25"/><text class="tf" x="2888" y="1228">Benzeneacetaldehyde</text></g>
<g id="a-f-2-nonanone"><circle class="fl" cx="3070" cy="1232" r="25"/><text class="tf" x="3070" y="1232">2-Nonanone</text></g>
<g id="a-f-acetoin"><circle class="fd" cx="2984" cy="1246" r="30"/><text class="tf" x="2984" y="1246">Acetoin</text></g>
</g>

<g id="panel-a-titles">
<text class="big" x="349" y="268" font-size="94" style="fill:#6a4fa4" textLength="647" lengthAdjust="spacingAndGlyphs">KEGG pathway</text>
<text class="big" x="1564" y="1551" font-size="94" style="fill:#1f6fb6" textLength="967" lengthAdjust="spacingAndGlyphs">Non-volatile metabalites</text>
<text class="big" x="2645" y="1520" font-size="93" style="fill:#f07020" textLength="741" lengthAdjust="spacingAndGlyphs">Flavor compounds</text>
<text class="big" x="1692" y="1727" font-size="70" style="text-anchor:middle;fill:#000" textLength="92" lengthAdjust="spacingAndGlyphs">(A)</text>
</g>

<g id="legend-a">
<ellipse cx="2796" cy="71" rx="300" ry="51" fill="#bfd5ea" stroke="#a9bccf" stroke-width="1.5"/>
<text class="big" x="2785" y="109" font-size="96" style="text-anchor:middle;fill:#0d0d0d" textLength="259" lengthAdjust="spacingAndGlyphs">S0 – S8</text>
<circle cx="2560" cy="191" r="34" fill="#9e99c8"/>
<text class="leg" x="2652" y="215" style="fill:#6a4fa6" textLength="465" lengthAdjust="spacingAndGlyphs">KEGG pathway</text>
<circle cx="2560" cy="284" r="34" fill="#f06a12"/>
<text class="leg" x="2645" y="311" style="fill:#f06a1a" textLength="534" lengthAdjust="spacingAndGlyphs">Flavor compounds</text>
<circle cx="2560" cy="381" r="35" fill="#1f8fc1"/>
<text class="leg" x="2613" y="398" style="fill:#1f6db5" textLength="673" lengthAdjust="spacingAndGlyphs">Non-volatile metabalites</text>
<rect x="2487" y="489" width="154" height="12" fill="#9ecae4" stroke="#8cb6d6" stroke-width="1"/>
<text class="corr" x="2673" y="503" style="fill:#6aaed6" textLength="567" lengthAdjust="spacingAndGlyphs">Negative correlation</text>
<rect x="2497" y="604" width="155" height="11" fill="#fbad4c" stroke="#e8a050" stroke-width="1"/>
<text class="corr" x="2684" y="620" style="fill:#f7883a" textLength="542" lengthAdjust="spacingAndGlyphs">Positive correlation</text>
</g>

<g id="panel-b-kegg">
<g id="b-k-2-oxocarboxylic"><circle class="kl" cx="520" cy="2313" r="39"/><text class="tb" x="520" y="2313"><tspan x="520" dy="-0.55em">2-Oxocarboxylic acid</tspan><tspan x="520" dy="1.2em">metabolism</tspan></text></g>
<g id="b-k-propanoate"><circle class="kl" cx="678" cy="2313" r="27"/><text class="tb" x="678" y="2313">Propanoate metabolism</text></g>
<g id="b-k-butanoate"><circle class="kl" cx="373" cy="2364" r="27"/><text class="tb" x="373" y="2364">Butanoate metabolism</text></g>
<g id="b-k-carbon"><circle class="kl" cx="826" cy="2364" r="27"/><text class="tb" x="826" y="2364">Carbon metabolism</text></g>
<g id="b-k-fatty-acid-metabolism"><circle class="kl" cx="249" cy="2461" r="27"/><text class="tb" x="249" y="2461">Fatty acid metabolism</text></g>
<g id="b-k-glyoxylate"><circle class="kl" cx="949" cy="2461" r="27"/><text class="tb" x="949" y="2461"><tspan x="949" dy="-0.55em">Glyoxylate and dicarboxylate</tspan><tspan x="949" dy="1.2em">metabolism</tspan></text></g>
<g id="b-k-oxidative"><circle class="kl" cx="163" cy="2592" r="27"/><text class="tb" x="163" y="2592">Oxidative phosphorylation</text></g>
<g id="b-k-cis-muconic"><circle class="kl" cx="1035" cy="2592" r="27"/><text class="tb" x="1035" y="2592">"Cis,cis-muconic acid"</text></g>
<g id="b-k-gpi"><circle class="kl" cx="124" cy="2744" r="27"/><text class="tb" x="124" y="2744"><tspan x="124" dy="-0.55em">Glycosylphosphatidylinositol</tspan><tspan x="124" dy="1.2em">(GPI)-anchor biosynthesis</tspan></text></g>
<g id="b-k-nicotinate"><circle class="kl" cx="1072" cy="2744" r="27"/><text class="tb" x="1072" y="2744"><tspan x="1072" dy="-0.55em">Nicotinate and nicotinamide</tspan><tspan x="1072" dy="1.2em">metabolism</tspan></text></g>
<g id="b-k-cofactors"><circle class="kl" cx="137" cy="2901" r="39"/><text class="tb" x="137" y="2901">Biosynthesis of cofactors</text></g>
<g id="b-k-metabolic"><circle class="kl" cx="1061" cy="2901" r="39"/><text class="tb" x="1061" y="2901">Metabolic pathways</text></g>
<g id="b-k-fatty-elongation"><circle class="kl" cx="201" cy="3044" r="27"/><text class="tb" x="201" y="3044">Fatty acid elongation</text></g>
<g id="b-k-unsaturated"><circle class="kl" cx="997" cy="3044" r="27"/><text class="tb" x="997" y="3044"><tspan x="997" dy="-0.55em">Biosynthesis of unsaturated</tspan><tspan x="997" dy="1.2em">fatty acids</tspan></text></g>
<g id="b-k-purine"><circle class="kl" cx="307" cy="3159" r="27"/><text class="tb" x="307" y="3159">Purine metabolism</text></g>
<g id="b-k-aminoacyl"><circle class="kl" cx="891" cy="3159" r="27"/><text class="tb" x="891" y="3159">Aminoacyl-tRNA biosynthesis</text></g>
<g id="b-k-fatty-degradation"><circle class="kl" cx="445" cy="3234" r="27"/><text class="tb" x="445" y="3234">Fatty acid degradation</text></g>
<g id="b-k-glycerophospholipid"><circle class="kl" cx="752" cy="3234" r="27"/><text class="tb" x="752" y="3234"><tspan x="752" dy="-0.55em">Glycerophospholipid</tspan><tspan x="752" dy="1.2em">metabolism</tspan></text></g>
<g id="b-k-fructose"><circle class="kl" cx="599" cy="3260" r="27"/><text class="tb" x="599" y="3260"><tspan x="599" dy="-0.55em">Fructose and mannose</tspan><tspan x="599" dy="1.2em">metabolism</tspan></text></g>
<g id="b-k-nucleotide"><circle class="kd" cx="483" cy="2584" r="39"/><text class="tb" x="483" y="2584">Nucleotide metabolism</text></g>
<g id="b-k-glycolysis"><circle class="kd" cx="608" cy="2551" r="27"/><text class="tb" x="608" y="2551">Glycolysis / Gluconeogenesis</text></g>
<g id="b-k-tca"><circle class="kd" cx="713" cy="2589" r="27"/><text class="tb" x="713" y="2589">Citrate cycle (TCA cycle)</text></g>
<g id="b-k-beta-alanine"><circle class="kd" cx="408" cy="2650" r="27"/><text class="tb" x="408" y="2650">beta-Alanine metabolism</text></g>
<g id="b-k-fatty-biosynthesis"><circle class="kd" cx="792" cy="2678" r="39"/><text class="tb" x="792" y="2678">Fatty acid biosynthesis</text></g>
<g id="b-k-amino-acids"><circle class="kd" cx="377" cy="2763" r="39"/><text class="tb" x="377" y="2763">Biosynthesis of amino acids</text></g>
<g id="b-k-d-amino"><circle class="kd" cx="818" cy="2791" r="39"/><text class="tb" x="818" y="2791">D-Amino acid metabolism</text></g>
<g id="b-k-pantothenate"><circle class="kd" cx="405" cy="2898" r="39"/><text class="tb" x="405" y="2898"><tspan x="405" dy="-0.55em">Pantothenate and CoA</tspan><tspan x="405" dy="1.2em">biosynthesis</tspan></text></g>
<g id="b-k-abc"><circle class="kd" cx="789" cy="2902" r="39"/><text class="tb" x="789" y="2902">ABC transporters</text></g>
<g id="b-k-arginine"><circle class="kd" cx="487" cy="2974" r="39"/><text class="tb" x="487" y="2974"><tspan x="487" dy="-0.55em">Arginine and proline</tspan><tspan x="487" dy="1.2em">metabolism</tspan></text></g>
<g id="b-k-pyrimidine"><circle class="kd" cx="715" cy="2974" r="27"/><text class="tb" x="715" y="2974">Pyrimidine metabolism</text></g>
<g id="b-k-pyruvate"><circle class="kd" cx="599" cy="3008" r="27"/><text class="tb" x="599" y="3008">Pyruvate metabolism</text></g>
</g>

<g id="panel-b-nonvolatile">
<g id="b-n-lactic"><circle class="nd" cx="1817" cy="2526" r="34"/><text class="tnb" x="1817" y="2526">L-(+)-lactic acid</text></g>
<g id="b-n-hippuric"><circle class="nd" cx="1929" cy="2501" r="34"/><text class="tnb" x="1929" y="2501">Hippuric acid</text></g>
<g id="b-n-phosphoric"><circle class="nd" cx="2037" cy="2525" r="34"/><text class="tnb" x="2037" y="2525">Phosphoric acid</text></g>
<g id="b-n-pantothenate"><circle class="nl" cx="1723" cy="2573" r="27"/><text class="tnb" x="1723" y="2573">Pantothenate</text></g>
<g id="b-n-dl-malic"><circle class="nl" cx="2138" cy="2578" r="27"/><text class="tnb" x="2138" y="2578">Dl-malic acid</text></g>
<g id="b-n-4-vinylphenol"><circle class="nl" cx="1645" cy="2650" r="27"/><text class="tnb" x="1645" y="2650">4-vinylphenol</text></g>
<g id="b-n-4-hydroxybenzaldehyde"><circle class="nd" cx="2211" cy="2657" r="34"/><text class="tnb" x="2211" y="2657">4-hydroxybenzaldehyde</text></g>
<g id="b-n-palmitic"><circle class="nl" cx="1596" cy="2747" r="27"/><text class="tnb" x="1596" y="2747">Palmitic acid</text></g>
<g id="b-n-niacinamide"><circle class="nl" cx="2259" cy="2747" r="27"/><text class="tnb" x="2259" y="2747">Niacinamide</text></g>
<g id="b-n-2-hydroxy"><circle class="nl" cx="1582" cy="2855" r="27"/><text class="tnb" x="1582" y="2855"><tspan x="1582" dy="-0.55em">2-hydroxy-3-methylbutyric</tspan><tspan x="1582" dy="1.2em">acid</tspan></text></g>
<g id="b-n-benzophenone"><circle class="nd" cx="2277" cy="2855" r="34"/><text class="tnb" x="2277" y="2855">Benzophenone</text></g>
<g id="b-n-dl-proline"><circle class="nd" cx="1596" cy="2964" r="34"/><text class="tnb" x="1596" y="2964">DL-proline</text></g>
<g id="b-n-prophos"><circle class="nl" cx="2261" cy="2964" r="27"/><text class="tnb" x="2261" y="2964">Prophos</text></g>
<g id="b-n-citrate"><circle class="nd" cx="1646" cy="3060" r="34"/><text class="tnb" x="1646" y="3060">Citrate</text></g>
<g id="b-n-orotate"><circle class="nd" cx="2210" cy="3060" r="34"/><text class="tnb" x="2210" y="3060">Orotate</text></g>
<g id="b-n-purine"><circle class="nl" cx="1723" cy="3137" r="27"/><text class="tnb" x="1723" y="3137">Purine</text></g>
<g id="b-n-acetylcholine"><circle class="nl" cx="2133" cy="3137" r="27"/><text class="tnb" x="2133" y="3137">Acetylcholine</text></g>
<g id="b-n-myristic"><circle class="nl" cx="1820" cy="3186" r="27"/><text class="tnb" x="1820" y="3186">Myristic acid</text></g>
<g id="b-n-adenine"><circle class="nl" cx="2038" cy="3188" r="27"/><text class="tnb" x="2038" y="3188">Adenine</text></g>
<g id="b-n-phenyllactic"><circle class="nl" cx="1928" cy="3204" r="27"/><text class="tnb" x="1928" y="3204">Phenyllactic acid</text></g>
</g>

<g id="panel-b-flavor">
<g id="b-f-2-heptanone"><circle class="fl" cx="2820" cy="2679" r="27"/><text class="tfb" x="2820" y="2679">2-Heptanone</text></g>
<g id="b-f-isoamyl-acetate"><circle class="fl" cx="2951" cy="2678" r="27"/><text class="tfb" x="2951" y="2678">Isoamyl acetate</text></g>
<g id="b-f-5-decanolide"><circle class="fd" cx="2736" cy="2731" r="32"/><text class="tfb" x="2736" y="2731">5-Decanolide</text></g>
<g id="b-f-2-dodecanone"><circle class="fl" cx="3024" cy="2731" r="27"/><text class="tfb" x="3024" y="2731">2-Dodecanone</text></g>
<g id="b-f-phenylethyl-alcohol"><circle class="fl" cx="2693" cy="2828" r="27"/><text class="tfb" x="2693" y="2828">Phenylethyl Alcohol</text></g>
<g id="b-f-3-methylpentanoic"><circle class="fd" cx="3069" cy="2828" r="32"/><text class="tfb" x="3069" y="2828">3-Methylpentanoic acid</text></g>
<g id="b-f-acetoin"><circle class="fd" cx="2708" cy="2934" r="32"/><text class="tfb" x="2708" y="2934">Acetoin</text></g>
<g id="b-f-hexanoic"><circle class="fd" cx="3053" cy="2934" r="32"/><text class="tfb" x="3053" y="2934">Hexanoic acid</text></g>
<g id="b-f-benzeneacetaldehyde"><circle class="fl" cx="2983" cy="3015" r="27"/><text class="tfb" x="2983" y="3015">Benzeneacetaldehyde</text></g>
<g id="b-f-phenethyl-acetate"><circle class="fd" cx="2777" cy="3015" r="32"/><text class="tfb" x="2777" y="3015">Phenethyl acetate</text></g>
<g id="b-f-isoamyl-alcohol"><circle class="fd" cx="2881" cy="3045" r="32"/><text class="tfb" x="2881" y="3045">Isoamyl alcohol</text></g>
</g>

<g id="panel-b-titles">
<text class="big" x="219" y="2093" font-size="101" style="fill:#6a4fa4" textLength="698" lengthAdjust="spacingAndGlyphs">KEGG pathway</text>
<text class="big" x="1468" y="3402" font-size="101" style="fill:#1f6fb6" textLength="1049" lengthAdjust="spacingAndGlyphs">Non-volatile metabalites</text>
<text class="big" x="2556" y="3301" font-size="101" style="fill:#f07020" textLength="805" lengthAdjust="spacingAndGlyphs">Flavor compounds</text>
<text class="big" x="1689" y="3548" font-size="70" style="text-anchor:middle;fill:#000" textLength="92" lengthAdjust="spacingAndGlyphs">(B)</text>
</g>

<g id="legend-b">
<ellipse cx="2635" cy="1850" rx="310" ry="53" fill="#bfd5ea" stroke="#a9bccf" stroke-width="1.5"/>
<text class="big" x="2625" y="1888" font-size="98" style="text-anchor:middle;fill:#0d0d0d" textLength="267" lengthAdjust="spacingAndGlyphs">S0 – S8</text>
<circle cx="2390" cy="1980" r="35" fill="#9e99c8"/>
<text class="leg" x="2486" y="2002" style="fill:#6a4fa6" textLength="482" lengthAdjust="spacingAndGlyphs">KEGG pathway</text>
<circle cx="2390" cy="2077" r="35" fill="#f06a12"/>
<text class="leg" x="2478" y="2105" style="fill:#f06a1a" textLength="555" lengthAdjust="spacingAndGlyphs">Flavor compounds</text>
<circle cx="2390" cy="2181" r="36" fill="#1f8fc1"/>
<text class="leg" x="2460" y="2222" style="fill:#1f6db5" textLength="725" lengthAdjust="spacingAndGlyphs">Non-volatile metabalites</text>
<rect x="2315" y="2295" width="160" height="13" fill="#9ecae4" stroke="#8cb6d6" stroke-width="1"/>
<text class="corr" x="2529" y="2336" style="fill:#6aaed6" textLength="605" lengthAdjust="spacingAndGlyphs">Negative correlation</text>
<rect x="2325" y="2419" width="160" height="12" fill="#fbad4c" stroke="#e8a050" stroke-width="1"/>
<text class="corr" x="2540" y="2459" style="fill:#f7883a" textLength="578" lengthAdjust="spacingAndGlyphs">Positive correlation</text>
</g>
</svg>
